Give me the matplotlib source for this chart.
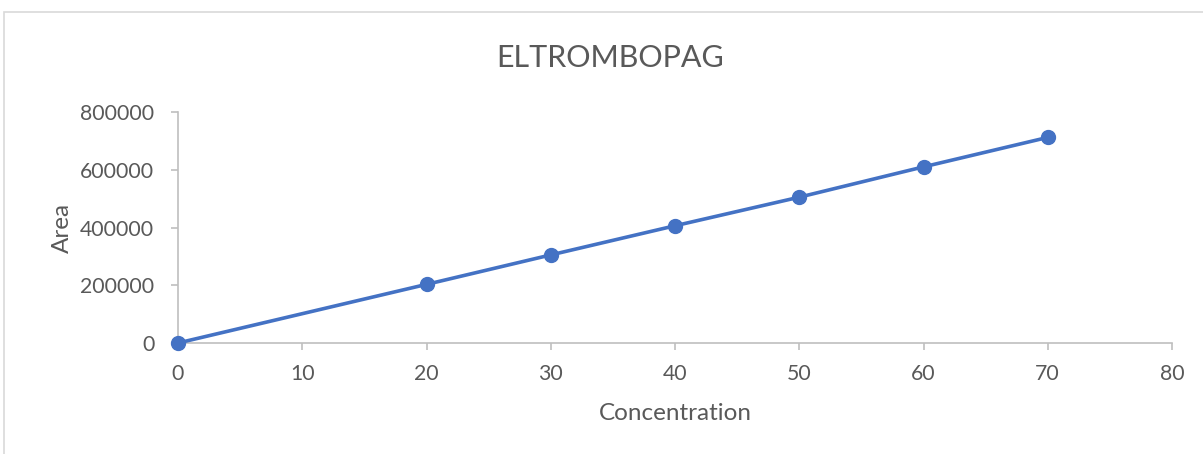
import matplotlib.pyplot as plt
from matplotlib.patches import Rectangle

# Calibration data
concentracao = [0, 20, 30, 40, 50, 60, 70]
area = [0, 203000, 305000, 406000, 505000, 610000, 712000]

x_ticks = [0, 10, 20, 30, 40, 50, 60, 70, 80]
y_ticks = [0, 200000, 400000, 600000, 800000]

cor_texto = '#595959'
cor_eixo = '#bfbfbf'
cor_linha = '#4472C4'

plt.rcParams['font.family'] = ['Lato', 'DejaVu Sans']

fig = plt.figure(figsize=(12.03, 4.54), dpi=100)
ax = fig.add_axes([178 / 1203, 1 - 343 / 454, (1172 - 178) / 1203, (343 - 112) / 454])

# chart area border (clipped at right and bottom)
fig.patches.append(Rectangle((4 / 1203, -0.1), 1.2, 0.1 + (454 - 12) / 454,
                             transform=fig.transFigure, fill=False,
                             edgecolor='#d9d9d9', linewidth=1.2))

ax.plot(concentracao, area, color=cor_linha, linewidth=2.6,
        marker='o', markersize=10, clip_on=False, zorder=3)

ax.set_xlim(0, 80)
ax.set_ylim(0, 800000)
ax.set_xticks(x_ticks)
ax.set_yticks(y_ticks)
ax.set_xticklabels([str(t) for t in x_ticks])
ax.set_yticklabels([str(t) for t in y_ticks])

for lado in ['top', 'right']:
    ax.spines[lado].set_visible(False)
for lado in ['left', 'bottom']:
    ax.spines[lado].set_color(cor_eixo)
    ax.spines[lado].set_linewidth(1.2)

ax.tick_params(axis='both', colors=cor_eixo, length=5, width=1.2,
               labelcolor=cor_texto, labelsize=15.3)
ax.tick_params(axis='x', pad=10)
ax.tick_params(axis='y', pad=12)

fig.text(610 / 1203, 1 - 58 / 454, 'ELTROMBOPAG', ha='center', va='center',
         fontsize=22, color=cor_texto)
fig.text(675 / 1203, 1 - 413 / 454, 'Concentration', ha='center', va='center',
         fontsize=17.5, color=cor_texto)
fig.text(62 / 1203, 1 - 228 / 454, 'Area', ha='center', va='center',
         rotation=90, fontsize=17.5, color=cor_texto)

fig.savefig('out.png', dpi=100, facecolor='white')
